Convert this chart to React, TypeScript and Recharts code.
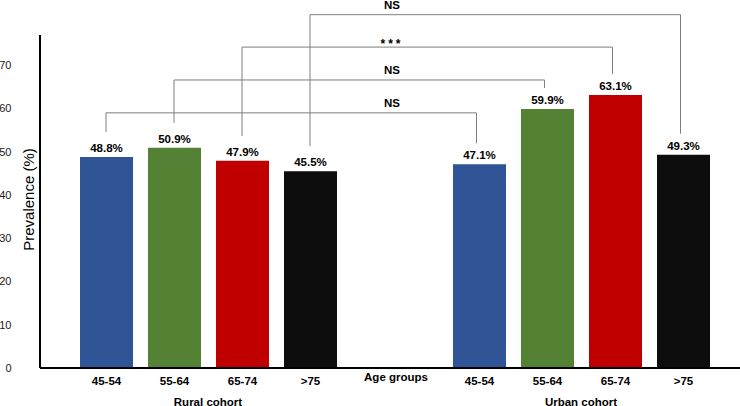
import React, { useState, useCallback, useEffect } from 'react';
import { BarChart, Bar, XAxis, YAxis, LabelList, Label } from 'recharts';

const cohorts = ['Rural cohort', 'Urban cohort'];
const ageGroups = ['45-54', '55-64', '65-74', '>75'];
const ruralValues = [48.8, 50.9, 47.9, 45.5];
const urbanValues = [47.1, 59.9, 63.1, 49.3];
const seriesColors = ['#2F5597', '#548235', '#C00000', '#0D0D0D'];
const sigLabels = ['NS', 'NS', '***', 'NS'];
const bracketLevels = [59, 66.6, 74.2, 81.7];
const yTicks = [0, 10, 20, 30, 40, 50, 60, 70];
const middleLabel = 'Age groups';
const yLabel = 'Prevalence (%)';

const cohortValues = [ruralValues, urbanValues];
const data = cohorts.map((c, i) => {
  const row: Record<string, any> = { cohort: c };
  ageGroups.forEach((_, k) => {
    row['s' + k] = cohortValues[i][k];
  });
  return row;
});

const FONT = '"Liberation Sans", Arial, sans-serif';

type Pos = { cx: number; top: number; base: number; value: number };

function Probe(props: any) {
  const { x, y, width, height, value, index, k, onPos } = props;
  const cx = Number(x) + Number(width) / 2;
  const top = Number(y);
  const base = Number(y) + Number(height);
  const v = Number(value);
  useEffect(() => {
    if (isFinite(cx) && isFinite(top)) onPos(`${k}-${index}`, { cx, top, base, value: v });
  }, [cx, top, base, v, index, k, onPos]);
  if (!isFinite(cx) || !isFinite(top)) return null;
  return (
    <g>
      <text x={cx} y={top - 5} textAnchor="middle" fontSize={11.5} fontWeight="bold" fill="#000" fontFamily={FONT}>
        {v.toFixed(1)}%
      </text>
      <text x={cx} y={base + 17} textAnchor="middle" fontSize={11.5} fontWeight="bold" fill="#000" fontFamily={FONT}>
        {ageGroups[k]}
      </text>
    </g>
  );
}

function CohortTick(props: any) {
  const { x, y, payload } = props;
  return (
    <text x={x} y={y + 37.5} textAnchor="middle" fontSize={11.5} fontWeight="bold" fill="#000" fontFamily={FONT}>
      {payload.value}
    </text>
  );
}

function YLabel(props: any) {
  const vb = props.viewBox || {};
  const cx = vb.x + 28.5;
  const cy = vb.y + vb.height / 2 - 2;
  return (
    <text
      x={cx}
      y={cy}
      transform={`rotate(-90, ${cx}, ${cy})`}
      textAnchor="middle"
      dominantBaseline="central"
      fontSize={15}
      fill="#000"
      fontFamily={FONT}
    >
      {yLabel}
    </text>
  );
}

export default function App() {
  const [pos, setPos] = useState<Record<string, Pos>>({});
  const report = useCallback((key: string, p: Pos) => {
    setPos((prev) => {
      const o = prev[key];
      if (o && o.cx === p.cx && o.top === p.top && o.base === p.base && o.value === p.value) return prev;
      return { ...prev, [key]: p };
    });
  }, []);

  const ready = ageGroups.every((_, k) => pos[`${k}-0`] && pos[`${k}-1`]);
  let overlay: React.ReactNode = null;
  if (ready) {
    const ref = pos['0-0'];
    const pxPerUnit = (ref.base - ref.top) / ref.value;
    const toY = (v: number) => ref.base - v * pxPerUnit;
    const ruralMean = ageGroups.reduce((s, _, k) => s + pos[`${k}-0`].cx, 0) / ageGroups.length;
    const urbanMean = ageGroups.reduce((s, _, k) => s + pos[`${k}-1`].cx, 0) / ageGroups.length;
    const mid = (ruralMean + urbanMean) / 2;
    overlay = (
      <g>
        {ageGroups.map((_, k) => {
          const l = pos[`${k}-0`];
          const r = pos[`${k}-1`];
          const ly = toY(bracketLevels[k]);
          const lab = sigLabels[k];
          const isStar = lab === '***';
          return (
            <g key={k}>
              <path
                d={`M${l.cx - 0.5},${l.top - 25} V${ly} H${r.cx - 3} V${r.top - 21}`}
                fill="none"
                stroke="#7F7F7F"
                strokeWidth={1}
              />
              <text
                x={mid - 3}
                y={isStar ? ly + 0.5 : ly - 6}
                textAnchor="middle"
                fontSize={isStar ? 12 : 11.5}
                fontWeight="bold"
                letterSpacing={isStar ? 3 : 0}
                fill="#000"
                fontFamily={FONT}
              >
                {lab}
              </text>
            </g>
          );
        })}
        <text x={mid + 1} y={380.5} textAnchor="middle" fontSize={11.5} fontWeight="bold" fill="#000" fontFamily={FONT}>
          {middleLabel}
        </text>
      </g>
    );
  }

  return (
    <div>
      <div style={{ position: 'absolute', left: 0, top: 0, width: 740, height: 406 }}>
        <BarChart
          width={740}
          height={406}
          data={data}
          margin={{ top: 35, right: 0, bottom: 0, left: 0 }}
          barCategoryGap={58.5}
          barGap={15}
        >
          <XAxis
            dataKey="cohort"
            height={38}
            interval={0}
            tickLine={false}
            tickSize={0}
            tickMargin={0}
            tick={<CohortTick />}
            axisLine={{ stroke: '#000', strokeWidth: 2 }}
            padding={{ left: -18.5, right: -27.5 }}
          />
          <YAxis
            width={40}
            domain={[0, 77]}
            ticks={yTicks}
            interval={0}
            tickLine={false}
            tickSize={0}
            tickMargin={28.5}
            axisLine={{ stroke: '#000', strokeWidth: 2 }}
            tick={{ fontSize: 11, fill: '#1a1a1a', fontFamily: FONT }}
          >
            <Label content={<YLabel />} />
          </YAxis>
          {ageGroups.map((g, k) => (
            <Bar key={g} dataKey={'s' + k} name={g} fill={seriesColors[k]} isAnimationActive={false}>
              <LabelList dataKey={'s' + k} content={(p: any) => <Probe {...p} k={k} onPos={report} />} />
            </Bar>
          ))}
        </BarChart>
      </div>
      <svg width={740} height={406} style={{ position: 'absolute', left: 0, top: 0, pointerEvents: 'none' }}>
        {overlay}
      </svg>
    </div>
  );
}
